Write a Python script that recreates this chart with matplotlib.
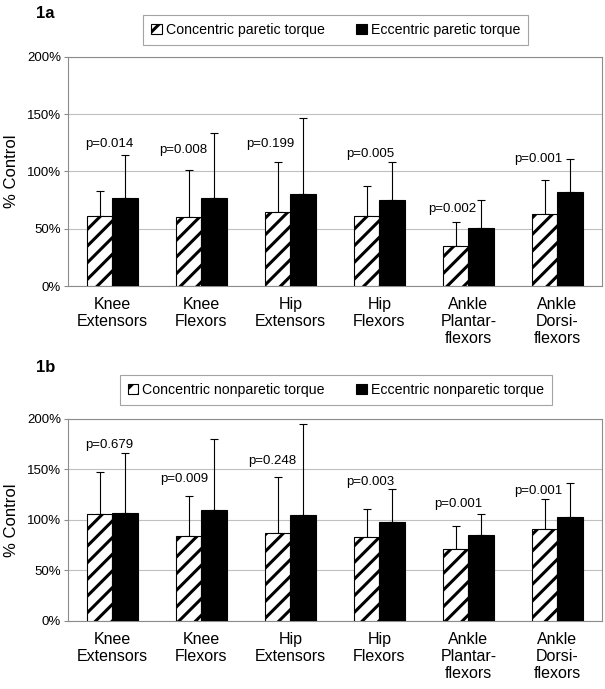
import numpy as np
import matplotlib.pyplot as plt

plt.rcParams['font.family'] = ['Liberation Sans', 'DejaVu Sans']
plt.rcParams['hatch.linewidth'] = 2.2

muscles = ['Knee\nExtensors', 'Knee\nFlexors', 'Hip\nExtensors', 'Hip\nFlexors',
           'Ankle\nPlantar-\nflexors', 'Ankle\nDorsi-\nflexors']

# panel 1a: paretic torque, % of control (mean and upper error bar top)
conc_paretic = [61, 60, 65, 61, 35, 63]
conc_paretic_top = [83, 101, 108, 87, 56, 93]
ecc_paretic = [76.5, 77, 80, 75, 51, 82]
ecc_paretic_top = [114, 134, 147, 108, 75, 111]
p_paretic = ['p=0.014', 'p=0.008', 'p=0.199', 'p=0.005', 'p=0.002', 'p=0.001']

# panel 1b: nonparetic torque
conc_nonparetic = [105.5, 84, 87.5, 83, 71, 91]
conc_nonparetic_top = [148, 124, 143, 110.5, 94.5, 121]
ecc_nonparetic = [107, 110, 105, 98, 85.5, 102.5]
ecc_nonparetic_top = [166, 180.5, 195, 131, 105.5, 136.5]
p_nonparetic = ['p=0.679', 'p=0.009', 'p=0.248', 'p=0.003', 'p=0.001', 'p=0.001']

# where the p labels sit (x offset from group centre, height in %)
p_pos_a = [(-0.04, 124), (-0.2, 119), (-0.23, 124), (-0.1, 115), (-0.18, 67), (-0.22, 111)]
p_pos_b = [(-0.04, 174), (-0.19, 141), (-0.21, 158), (-0.1, 138), (-0.12, 116), (-0.22, 129)]

GRAY = '#8c8c8c'


def draw_panel(ax, conc, conc_top, ecc, ecc_top, plabels, ppos):
    x = np.arange(len(muscles))
    w = 0.29
    conc = np.array(conc)
    ecc = np.array(ecc)
    b1 = ax.bar(x - w / 2, conc, w, color='white', edgecolor='black',
                hatch='//', linewidth=0.8, zorder=3)
    b2 = ax.bar(x + w / 2, ecc, w, color='black', edgecolor='black',
                linewidth=0.8, zorder=3)
    # upper error bars only
    ax.errorbar(x - w / 2, conc, yerr=[np.zeros_like(conc), np.array(conc_top) - conc],
                fmt='none', ecolor='black', elinewidth=0.8, capsize=3, capthick=0.8, zorder=2)
    ax.errorbar(x + w / 2, ecc, yerr=[np.zeros_like(ecc), np.array(ecc_top) - ecc],
                fmt='none', ecolor='black', elinewidth=0.8, capsize=3, capthick=0.8, zorder=2)
    for xi, lab, (dx, py) in zip(x, plabels, ppos):
        ax.text(xi + dx, py, lab, ha='center', va='center', fontsize=9.5, zorder=5)

    ax.set_xlim(-0.5, len(muscles) - 0.5)
    ax.set_ylim(0, 200)
    ax.set_yticks([0, 50, 100, 150, 200])
    ax.set_yticklabels(['0%', '50%', '100%', '150%', '200%'], fontsize=9.5)
    ax.set_xticks(x)
    ax.set_xticklabels(muscles, fontsize=11.5, linespacing=1.15)
    ax.tick_params(axis='x', length=0, pad=8)
    ax.tick_params(axis='y', length=3, color=GRAY, pad=2)
    ax.yaxis.grid(True, color='#c0c0c0', linewidth=0.8, zorder=0)
    ax.set_axisbelow(True)
    for s in ax.spines.values():
        s.set_color(GRAY)
        s.set_linewidth(0.8)
    ax.set_ylabel('% Control', fontsize=12, labelpad=6)
    return b1, b2


fig = plt.figure(figsize=(6.05, 6.89), dpi=100)
ax1 = fig.add_axes([0.1124, 0.5849, 0.8826, 0.3324])
ax2 = fig.add_axes([0.1124, 0.0987, 0.8826, 0.2932])

h1 = draw_panel(ax1, conc_paretic, conc_paretic_top, ecc_paretic, ecc_paretic_top,
                p_paretic, p_pos_a)
h2 = draw_panel(ax2, conc_nonparetic, conc_nonparetic_top, ecc_nonparetic,
                ecc_nonparetic_top, p_nonparetic, p_pos_b)

for handles, labels, y in [(h1, ['Concentric paretic torque', 'Eccentric paretic torque'], 0.9565),
                           (h2, ['Concentric nonparetic torque', 'Eccentric nonparetic torque'], 0.434)]:
    leg = fig.legend(handles, labels, loc='center', bbox_to_anchor=(0.555, y), ncol=2,
                     fontsize=10.2, frameon=True, fancybox=False, handlelength=0.75,
                     handleheight=0.75, handletextpad=0.3, columnspacing=2.2,
                     borderpad=0.55)
    leg.get_frame().set_edgecolor(GRAY)
    leg.get_frame().set_linewidth(0.8)

fig.text(0.06, 1 - 13 / 689, '1a', fontsize=12, fontweight='bold', ha='left', va='center')
fig.text(0.06, 1 - 368 / 689, '1b', fontsize=12, fontweight='bold', ha='left', va='center')

fig.savefig('out.png', dpi=100, facecolor='white')
